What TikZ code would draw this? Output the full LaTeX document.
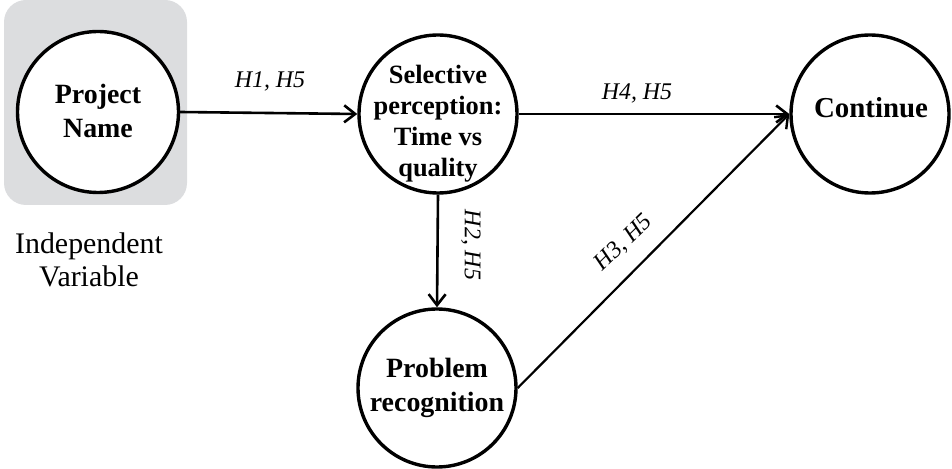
\documentclass[tikz,border=0pt]{standalone}
\usepackage{fontspec}
\setmainfont{Liberation Serif}
\usetikzlibrary{arrows.meta}
\definecolor{panelgray}{HTML}{DCDDDF}
\begin{document}
\begin{tikzpicture}[x=1bp,y=-1bp,
  construct/.style={circle,draw=black,line width=3.4bp,minimum size=158bp,inner sep=0pt,fill=white},
  ctext/.style={font=\bfseries\fontsize{28}{34}\selectfont,align=center,inner sep=0pt},
  hyp/.style={font=\itshape\fontsize{24}{28}\selectfont,inner sep=0pt},
  link/.style={line width=2.6bp,-{Straight Barb[length=11bp,width=17bp,line width=2.6bp]}},
  thinlink/.style={line width=2.2bp,-{Straight Barb[length=11bp,width=17bp,line width=2.4bp]}}]
\useasboundingbox (0,0) rectangle (952,469);

% shaded panel behind the independent variable
\fill[panelgray,rounded corners=22bp] (4,0) rectangle (187,205);

% constructs
\node[construct,minimum size=161bp] (proj) at (98,112) {};
\node[construct] (sel)  at (438,114) {};
\node[construct] (prob) at (437,388) {};
\node[construct] (cont) at (870,114) {};

\node[ctext] (projtxt) at (98,111) {Project\\Name};
\node[ctext,font=\bfseries\fontsize{26.5}{31}\selectfont] (seltxt) at (438,124) {Selective\\perception:\\Time vs\\quality};
\node[ctext] (probtxt) at (437,388) {Problem\\recognition};
\node[ctext,font=\bfseries\fontsize{29}{34}\selectfont] (conttxt) at (871,108) {Continue};

\node[font=\fontsize{30}{33}\selectfont,align=center,inner sep=0pt] (iv) at (89,260) {Independent\\Variable};

% hypothesised paths
\draw[link] (proj.east) -- (sel.west);
\draw[link] (sel.east) -- (cont.west);
\draw[link] (sel.south) -- (prob.north);
\draw[thinlink] (prob.east) -- (cont.west);

\node[hyp,anchor=base] (h1) at (270,88) {H1, H5};
\node[hyp,anchor=base] (h4) at (637,100) {H4, H5};
\node[hyp,rotate=-90] (h2) at (471,245) {H2, H5};
\node[hyp,rotate=44] (h3) at (624,243) {H3, H5};
\end{tikzpicture}
\end{document}
